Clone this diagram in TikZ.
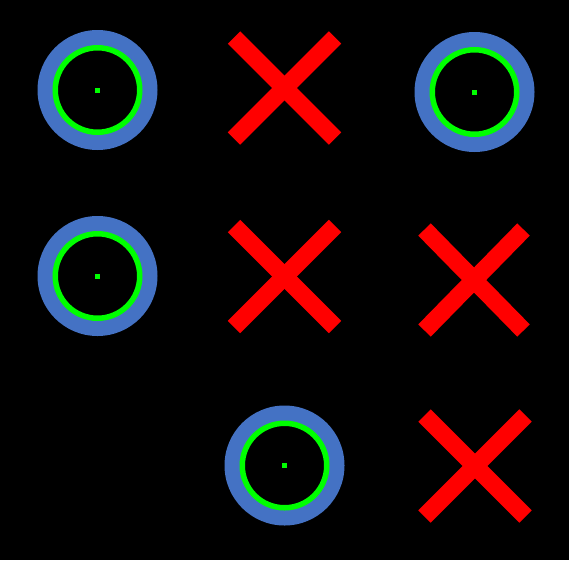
\documentclass[tikz,border=0pt]{standalone}
\definecolor{oblue}{HTML}{4472C4}
\definecolor{ogreen}{HTML}{00FF00}
\definecolor{xred}{HTML}{FF0000}
\begin{document}
\begin{tikzpicture}[x=1pt, y=-1pt,
  disc/.style={circle, fill=oblue, minimum size=120pt, inner sep=0pt},
  ring/.style={circle, draw=ogreen, fill=black, line width=5.5pt, minimum size=84.5pt, inner sep=0pt},
  dot/.style={rectangle, fill=ogreen, minimum size=5pt, inner sep=0pt},
  cell/.style={rectangle, minimum size=101pt, inner sep=0pt, outer sep=0pt},
  cross/.style={draw=xred, line width=17.5pt, line cap=butt}]
\fill[black] (0,0) rectangle (569,560);
\useasboundingbox (0,0) rectangle (569,560);
% noughts
\node[disc] (o1) at (97.5,90) {};
\node[disc] (o2) at (474.5,92) {};
\node[disc] (o3) at (97.5,276) {};
\node[disc] (o4) at (284.5,465.5) {};
\foreach \o in {o1,o2,o3,o4} {
  \node[ring] (\o r) at (\o) {};
  \node[dot] (\o d) at (\o) {};
}
% crosses
\node[cell] (x1) at (284.5,88) {};
\node[cell] (x2) at (284.5,276.5) {};
\node[cell, minimum width=99pt] (x3) at (474,280) {};
\node[cell] (x4) at (475,466) {};
\foreach \x in {x1,x2,x3,x4} {
  \draw[cross] (\x.north west) -- (\x.south east);
  \draw[cross] (\x.north east) -- (\x.south west);
}
\end{tikzpicture}
\end{document}
